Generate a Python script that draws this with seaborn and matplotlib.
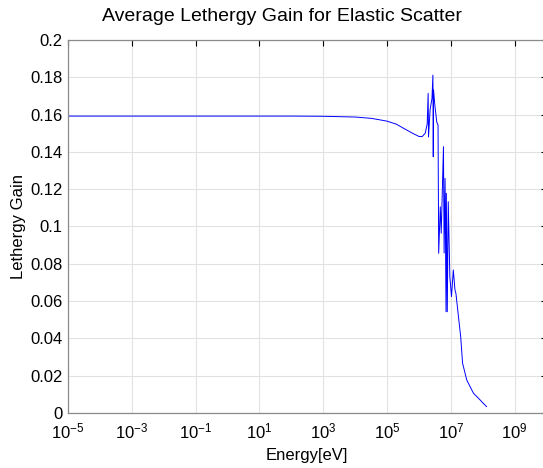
import matplotlib
matplotlib.use("Agg")
import matplotlib.pyplot as plt
import seaborn as sns
import pandas as pd
from matplotlib.ticker import FixedLocator, FixedFormatter

energy_eV = [1e-5, 1e-3, 1e-1, 1.0, 1e2, 1e3, 1e4, 3.2e4, 1e5, 2.0e5, 3.2e5, 6.3e5,
             1.0e6, 1.26e6, 1.58e6, 1.82e6, 1.95e6, 2.0e6, 2.24e6, 2.57e6, 2.75e6,
             2.82e6, 2.88e6, 3.16e6, 3.63e6, 3.98e6, 4.17e6, 4.68e6, 5.01e6, 5.89e6,
             6.17e6, 6.61e6, 7.08e6, 7.24e6, 7.76e6, 8.32e6, 9.33e6, 1.05e7, 1.20e7,
             1.35e7, 1.45e7, 1.74e7, 2.04e7, 2.34e7, 3.16e7, 5.13e7, 8.3e7, 1.0e8, 1.32e8]
lethargy_gain = [0.1592, 0.1592, 0.1592, 0.1592, 0.1592, 0.1591, 0.1587, 0.1580, 0.1565,
                 0.1548, 0.1528, 0.1500, 0.1483, 0.1482, 0.1500, 0.1550, 0.1714, 0.1480,
                 0.1625, 0.1687, 0.1812, 0.1374, 0.1732, 0.1650, 0.1560, 0.1544, 0.0856,
                 0.1106, 0.0964, 0.1428, 0.0858, 0.1258, 0.0543, 0.1178, 0.0543, 0.1133,
                 0.0731, 0.0624, 0.0767, 0.0660, 0.0640, 0.0516, 0.0410, 0.0267, 0.0177,
                 0.0106, 0.0070, 0.0055, 0.0034]

x_ticks = [1e-5, 1e-3, 1e-1, 1e1, 1e3, 1e5, 1e7, 1e9]
x_tick_labels = ["$10^{-5}$", "$10^{-3}$", "$10^{-1}$", "$10^{1}$", "$10^{3}$",
                 "$10^{5}$", "$10^{7}$", "$10^{9}$"]
y_ticks = [0, 0.02, 0.04, 0.06, 0.08, 0.1, 0.12, 0.14, 0.16, 0.18, 0.2]
y_tick_labels = ["0", "0.02", "0.04", "0.06", "0.08", "0.1", "0.12", "0.14",
                 "0.16", "0.18", "0.2"]

sns.set_style("white")
plt.rcParams["font.family"] = ["Liberation Sans", "DejaVu Sans"]
plt.rcParams["mathtext.fontset"] = "custom"
plt.rcParams["mathtext.rm"] = "Liberation Sans"
plt.rcParams["mathtext.it"] = "Liberation Sans"
plt.rcParams["mathtext.bf"] = "Liberation Sans"
plt.rcParams["text.color"] = "black"
plt.rcParams["axes.labelcolor"] = "black"
plt.rcParams["xtick.color"] = "black"
plt.rcParams["ytick.color"] = "black"

df = pd.DataFrame({"Energy": energy_eV, "Gain": lethargy_gain})

fig = plt.figure(figsize=(5.43, 4.68), dpi=100)
ax = fig.add_axes([68 / 543, 55 / 468, 478.5 / 543, 373 / 468])
sns.lineplot(data=df, x="Energy", y="Gain", ax=ax, color="#0000ff",
             linewidth=0.7, sort=False, estimator=None)
ax.set_xscale("log")
ax.set_xlim(1e-5, 1e10)
ax.set_ylim(0, 0.2)
ax.xaxis.set_major_locator(FixedLocator(x_ticks))
ax.xaxis.set_major_formatter(FixedFormatter(x_tick_labels))
ax.xaxis.set_minor_locator(FixedLocator([]))
ax.yaxis.set_major_locator(FixedLocator(y_ticks))
ax.yaxis.set_major_formatter(FixedFormatter(y_tick_labels))
ax.grid(True, color="#e2e2e2", linewidth=0.8)
for s in ax.spines.values():
    s.set_color("#8a8a8a")
    s.set_linewidth(0.9)
ax.tick_params(direction="in", length=4, width=0.8, colors="black",
               labelsize=12, top=True, right=True)
ax.tick_params(axis="y", pad=4)
ax.tick_params(axis="x", pad=6)
for t in ax.get_xticklines() + ax.get_yticklines():
    t.set_color("#666666")
ax.set_xlabel("Energy[eV]", fontsize=12, labelpad=5)
ax.set_ylabel("Lethergy Gain", fontsize=12, labelpad=3)
ax.set_title("Average Lethergy Gain for Elastic Scatter", fontsize=14, pad=14,
             x=(282 - 68) / 478.5)
fig.savefig("out.png", dpi=100, facecolor="white")
